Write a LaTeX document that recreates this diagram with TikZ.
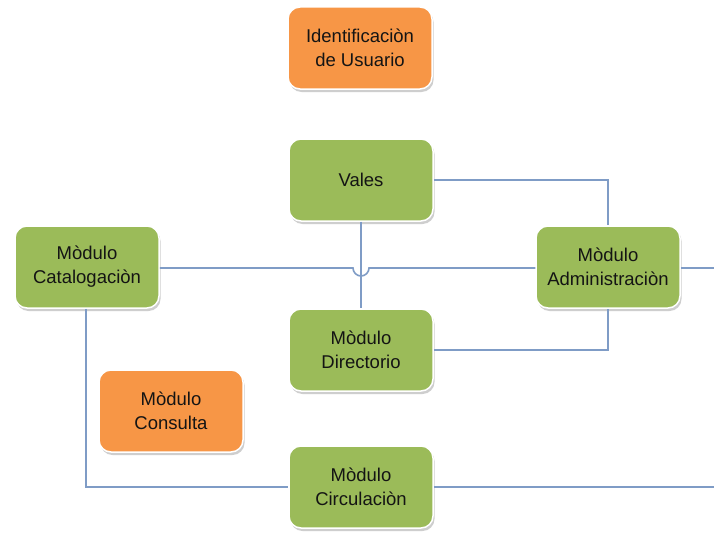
\documentclass[tikz,border=0pt]{standalone}
\usepackage{fontspec}
\setmainfont{Liberation Sans}
\usetikzlibrary{shadows}
\definecolor{boxgreen}{HTML}{9BBB59}
\definecolor{boxorange}{HTML}{F79646}
\definecolor{linkblue}{HTML}{7F9CC6}
\definecolor{txt}{HTML}{141414}
\tikzset{
  modbox/.style={rectangle, rounded corners=12pt, minimum width=144pt, minimum height=82pt,
    draw=white, line width=1.5pt, text=txt, align=center,
    font=\fontsize{18.5}{24}\selectfont,
    drop shadow={shadow xshift=1.5pt, shadow yshift=-3pt, opacity=0.35, fill=black!55}},
  greenbox/.style={modbox, fill=boxgreen},
  orangebox/.style={modbox, fill=boxorange},
  link/.style={draw=linkblue, line width=1.6pt}
}
\begin{document}
\begin{tikzpicture}[x=1pt,y=1pt]
\useasboundingbox (0,0) rectangle (714,-535);
\fill[white] (0,0) rectangle (714,-535);
\coordinate (endA) at (714,-268);
\coordinate (endC) at (714,-487);
\node[greenbox] (vales) at (361,-180) {Vales};
\node[greenbox] (catal) at (87,-267) {Mòdulo\\Catalogaciòn};
\node[greenbox] (admin) at (608,-267) {Mòdulo\\Administraciòn};
\node[greenbox] (direc) at (361,-350) {Mòdulo\\Directorio};
\node[greenbox] (circ) at (361,-487) {Mòdulo\\Circulaciòn};
\node[orangebox] (ident) at (360,-48) {Identificaciòn\\de Usuario};
\node[orangebox] (cons) at (171,-411) {Mòdulo\\Consulta};
% Vales -> Administracion
\draw[link] (vales.east |- 0,-180) -- (608,-180) -- (admin.north);
% Catalogacion -> Administracion with hop
\draw[link] (catal.east |- 0,-268) -- (353,-268) arc (180:360:8) -- (admin.west |- 0,-268);
% Administracion -> off right
\draw[link] (admin.east |- 0,-268) -- (endA);
% Vales -> Directorio
\draw[link] (vales.south) -- (direc.north);
% Directorio -> Administracion
\draw[link] (direc.east |- 0,-350) -- (608,-350) -- (admin.south);
% Catalogacion -> Circulacion
\draw[link] (catal.south -| 86,0) -- (86,-487) -- (circ.west);
% Circulacion -> off right
\draw[link] (circ.east) -- (endC);
\end{tikzpicture}
\end{document}
